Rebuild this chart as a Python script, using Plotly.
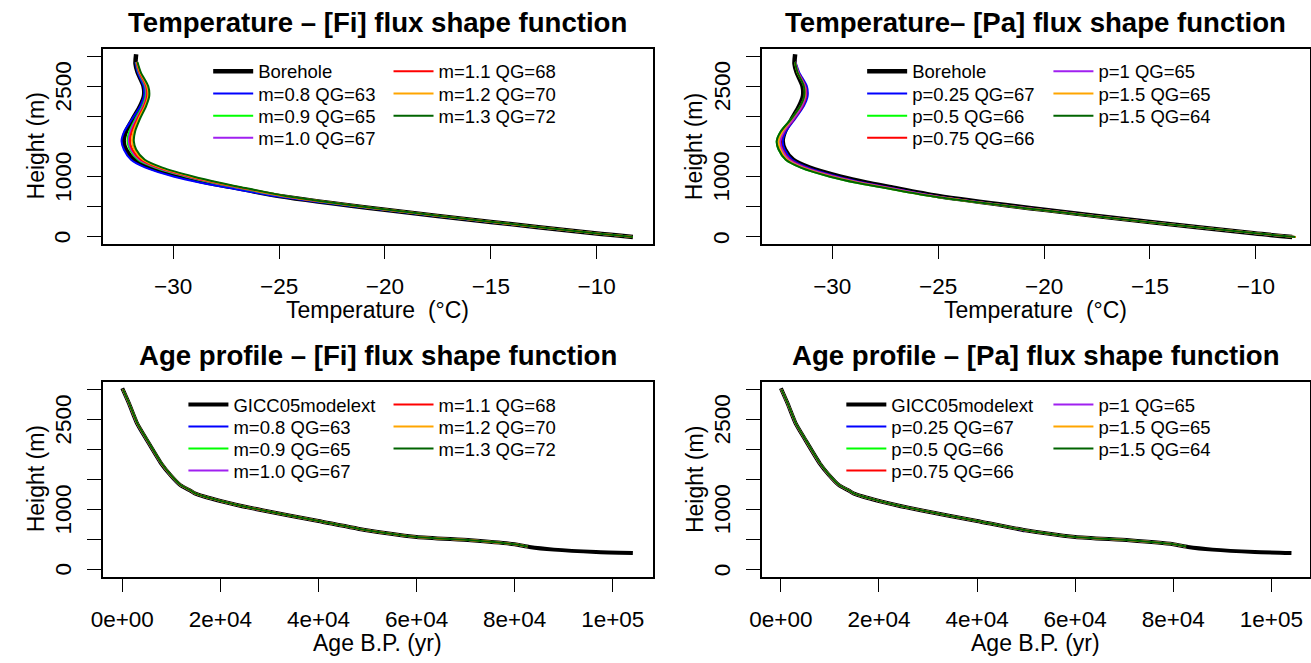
import plotly.graph_objects as go

W, H = 1311, 663
FONT = "Liberation Sans, Arial, Helvetica, sans-serif"

# ---------------- data: temperature profiles ----------------
bore_h = [0, 60, 250, 450, 680, 830, 900, 1000, 1150, 1280, 1450, 1590, 1750, 1950, 2170, 2340, 2500, 2730, 2870, 3030]
bore_t = [-8.29, -10.10, -15.00, -20.00, -25.00, -27.30, -28.35, -29.60, -31.06, -31.84, -32.23, -32.34, -32.23, -31.92, -31.56, -31.38, -31.40, -31.68, -31.78, -31.75]

model_h = [0, 60, 250, 450, 680, 830, 900, 1000, 1150, 1280, 1450, 1590, 1750, 1950, 2170, 2340, 2500, 2730, 2900]

fi_m08_t = [-8.29, -10.10, -15.05, -20.10, -25.20, -27.60, -28.70, -29.95, -31.31, -31.99, -32.33, -32.44, -32.31, -31.95, -31.56, -31.38, -31.40, -31.68, -31.78]
fi_m09_t = [-8.29, -10.08, -14.97, -19.95, -24.90, -27.15, -28.15, -29.38, -30.86, -31.66, -32.05, -32.16, -32.07, -31.80, -31.46, -31.30, -31.33, -31.63, -31.75]
fi_m10_t = [-8.29, -10.08, -14.96, -19.93, -24.85, -27.08, -28.07, -29.30, -30.78, -31.59, -31.99, -32.10, -32.01, -31.75, -31.42, -31.26, -31.30, -31.61, -31.74]
fi_m11_t = [-8.29, -10.07, -14.94, -19.90, -24.80, -27.00, -27.99, -29.22, -30.70, -31.52, -31.93, -32.04, -31.95, -31.70, -31.38, -31.23, -31.27, -31.59, -31.73]
fi_m12_t = [-8.29, -10.07, -14.92, -19.87, -24.75, -26.92, -27.90, -29.12, -30.60, -31.42, -31.83, -31.94, -31.87, -31.64, -31.33, -31.18, -31.23, -31.56, -31.71]
fi_m13_t = [-8.29, -10.06, -14.90, -19.83, -24.70, -26.85, -27.80, -29.02, -30.51, -31.34, -31.75, -31.86, -31.80, -31.58, -31.28, -31.13, -31.18, -31.53, -31.69]

pa_p025_t = [-8.19, -10.05, -15.05, -20.10, -25.15, -27.45, -28.50, -29.72, -31.14, -31.89, -32.25, -32.34, -32.18, -31.77, -31.34, -31.16, -31.20, -31.56, -31.73]
pa_p05_t = [-8.17, -10.02, -15.10, -20.20, -25.35, -27.75, -28.85, -30.10, -31.48, -32.19, -32.53, -32.62, -32.43, -31.95, -31.48, -31.28, -31.31, -31.63, -31.76]
pa_p075_t = [-8.14, -10.02, -15.07, -20.12, -25.20, -27.55, -28.62, -29.85, -31.26, -31.99, -32.35, -32.44, -32.26, -31.82, -31.40, -31.23, -31.27, -31.60, -31.75]
pa_p1_t = [-8.16, -10.03, -15.08, -20.14, -25.22, -27.58, -28.65, -29.90, -31.31, -32.04, -32.38, -32.46, -32.28, -31.84, -31.43, -31.26, -31.29, -31.61, -31.75]
pa_p15a_t = [-8.11, -10.00, -15.12, -20.18, -25.30, -27.68, -28.77, -30.02, -31.41, -32.12, -32.45, -32.54, -32.35, -31.92, -31.50, -31.30, -31.33, -31.64, -31.76]
pa_p15b_t = [-8.14, -10.00, -15.12, -20.20, -25.35, -27.75, -28.85, -30.10, -31.48, -32.19, -32.53, -32.62, -32.43, -31.95, -31.51, -31.32, -31.34, -31.64, -31.76]

# ---------------- data: age profiles ----------------
gicc_h = [3017, 2767, 2433, 2155, 1767, 1572, 1405, 1310, 1261, 1139, 983, 806, 650, 539, 483, 417, 372, 328, 289, 272]
gicc_age = [0, 1350, 3000, 5000, 7900, 9800, 11800, 13900, 14900, 20000, 28500, 40000, 49800, 60000, 71000, 80000, 83000, 88000, 96600, 104100]

agemod_h = [3000, 2767, 2433, 2155, 1767, 1572, 1405, 1310, 1261, 1139, 983, 806, 650, 539, 483, 417, 380]
fi_m08_age = [80, 1330, 2980, 4980, 7880, 9780, 11780, 13880, 14880, 19980, 28480, 39980, 49780, 59980, 70980, 79980, 82400]
fi_m09_age = [90, 1360, 3010, 5010, 7910, 9810, 11810, 13910, 14910, 20010, 28510, 40010, 49810, 60010, 71010, 80010, 82500]
fi_m10_age = [100, 1370, 3020, 5020, 7920, 9820, 11820, 13920, 14920, 20020, 28520, 40020, 49820, 60020, 71020, 80020, 82550]
fi_m11_age = [110, 1380, 3030, 5040, 7940, 9840, 11840, 13940, 14940, 20040, 28540, 40040, 49840, 60040, 71040, 80040, 82600]
fi_m12_age = [120, 1390, 3050, 5060, 7960, 9860, 11860, 13960, 14960, 20060, 28560, 40060, 49860, 60060, 71060, 80060, 82650]
fi_m13_age = [130, 1410, 3070, 5080, 7990, 9890, 11890, 13990, 14990, 20090, 28590, 40090, 49890, 60090, 71090, 80090, 82700]

pa_p025_age = [80, 1340, 2990, 4990, 7890, 9790, 11790, 13890, 14890, 19990, 28490, 39990, 49790, 59990, 70990, 79990, 82400]
pa_p05_age = [100, 1370, 3030, 5040, 7940, 9840, 11840, 13940, 14940, 20040, 28540, 40040, 49840, 60040, 71040, 80040, 82600]
pa_p075_age = [90, 1360, 3010, 5010, 7910, 9810, 11810, 13910, 14910, 20010, 28510, 40010, 49810, 60010, 71010, 80010, 82500]
pa_p1_age = [90, 1355, 3005, 5005, 7905, 9805, 11805, 13905, 14905, 20005, 28505, 40005, 49805, 60005, 71005, 80005, 82450]
pa_p15a_age = [95, 1365, 3020, 5025, 7925, 9825, 11825, 13925, 14925, 20025, 28525, 40025, 49825, 60025, 71025, 80025, 82550]
pa_p15b_age = [110, 1380, 3040, 5050, 7950, 9850, 11850, 13950, 14950, 20050, 28550, 40050, 49850, 60050, 71050, 80050, 82650]

fi_labels = ["m=0.8 QG=63", "m=0.9 QG=65", "m=1.0 QG=67", "m=1.1 QG=68", "m=1.2 QG=70", "m=1.3 QG=72"]
fi_colors = ["#0000FF", "#00FF00", "#A020F0", "#FF0000", "#FFA500", "#006400"]
pa_labels = ["p=0.25 QG=67", "p=0.5 QG=66", "p=0.75 QG=66", "p=1 QG=65", "p=1.5 QG=65", "p=1.5 QG=64"]
pa_colors = ["#0000FF", "#00FF00", "#FF0000", "#A020F0", "#FFA500", "#006400"]

temp_ticks = [-30, -25, -20, -15, -10]
temp_ticktext = ["\u221230", "\u221225", "\u221220", "\u221215", "\u221210"]
age_ticks = [0, 20000, 40000, 60000, 80000, 100000]
age_ticktext = ["0e+00", "2e+04", "4e+04", "6e+04", "8e+04", "1e+05"]
height_ticks = [0, 500, 1000, 1500, 2000, 2500, 3000]
height_labels = [0, 1000, 2500]

titles = ["Temperature \u2013 [Fi] flux shape function", "Temperature\u2013 [Pa] flux shape function",
          "Age profile \u2013 [Fi] flux shape function", "Age profile \u2013 [Pa] flux shape function"]


def fx(px):
    return px / W


def fy(py):
    return 1 - py / H


# panel boxes in pixels: (left, right, top, bottom)
boxes = [(91.7, 646.7, 49.3, 243.5), (756.5, 1309.5, 49.3, 243.5),
         (91.7, 646.7, 382.0, 576.5), (756.5, 1309.5, 382.0, 576.5)]
xranges = [[-33.322, -7.35], [-33.335, -7.47], [-3960, 108160], [-3939, 107780]]
yranges = [[-108, 3111], [-108, 3111], [-120, 3122], [-120, 3122]]

# legend positions: text start x of each column, centre y of each row
leg_cols = [(248, 430), (908, 1096), (223, 430), (887, 1096)]
leg_rows = [(71.7, 93.9, 116.1, 138.3), (71.7, 93.9, 116.1, 138.3),
            (404.9, 426.9, 448.9, 470.9), (404.9, 426.9, 448.9, 470.9)]

fig = go.Figure()
layout = {}
legend_count = [0]


def add_legend(panel, slot):
    legend_count[0] += 1
    n = legend_count[0]
    key = "legend" if n == 1 else "legend%d" % n
    c1, c2 = leg_cols[panel]
    rows = leg_rows[panel]
    if slot < 4:
        tx, ry = c1, rows[slot]
    else:
        tx, ry = c2, rows[slot - 4]
    layout[key] = dict(x=fx(tx - 50), y=fy(ry), xanchor="left", yanchor="middle",
                       bgcolor="rgba(0,0,0,0)", borderwidth=0, itemwidth=40,
                       font=dict(size=18.5, family=FONT, color="black"))
    return key


def add_line(panel, x, y, name, color, width, slot, shape="linear", smooth=0.8):
    ax = "" if panel == 0 else str(panel + 1)
    key = add_legend(panel, slot)
    fig.add_trace(go.Scatter(x=x, y=y, mode="lines", name=name,
                             line=dict(color=color, width=width, shape=shape,
                                       smoothing=smooth if shape == "spline" else None),
                             xaxis="x" + ax, yaxis="y" + ax, legend=key, showlegend=True,
                             hoverinfo="skip"))


# panel 1: temperature, Fi flux shape
fi_t = [fi_m08_t, fi_m09_t, fi_m10_t, fi_m11_t, fi_m12_t, fi_m13_t]
add_line(0, bore_t, bore_h, "Borehole", "black", 4.5, 0, "spline")
for i, t in enumerate(fi_t):
    add_line(0, t, model_h, fi_labels[i], fi_colors[i], 2, i + 1, "spline")

# panel 2: temperature, Pa flux shape
pa_t = [pa_p025_t, pa_p05_t, pa_p075_t, pa_p1_t, pa_p15a_t, pa_p15b_t]
add_line(1, bore_t, bore_h, "Borehole", "black", 4.5, 0, "spline")
for i, t in enumerate(pa_t):
    add_line(1, t, model_h, pa_labels[i], pa_colors[i], 2, i + 1, "spline")

# panel 3: age profile, Fi flux shape
fi_a = [fi_m08_age, fi_m09_age, fi_m10_age, fi_m11_age, fi_m12_age, fi_m13_age]
add_line(2, gicc_age, gicc_h, "GICC05modelext", "black", 4, 0, "spline", 0.5)
for i, a in enumerate(fi_a):
    add_line(2, a, agemod_h, fi_labels[i], fi_colors[i], 2, i + 1, "spline", 0.5)

# panel 4: age profile, Pa flux shape
pa_a = [pa_p025_age, pa_p05_age, pa_p075_age, pa_p1_age, pa_p15a_age, pa_p15b_age]
add_line(3, gicc_age, gicc_h, "GICC05modelext", "black", 4, 0, "spline", 0.5)
for i, a in enumerate(pa_a):
    add_line(3, a, agemod_h, pa_labels[i], pa_colors[i], 2, i + 1, "spline", 0.5)

annotations = []
for p in range(4):
    l, r, t, b = boxes[p]
    ax = "" if p == 0 else str(p + 1)
    is_temp = p < 2
    layout["xaxis" + ax] = dict(
        domain=[fx(l), fx(r)], range=xranges[p], anchor="y" + ax,
        tickvals=temp_ticks if is_temp else age_ticks,
        ticktext=temp_ticktext if is_temp else age_ticktext,
        showline=True, mirror=True, linecolor="black", linewidth=1.6,
        ticks="outside", ticklen=14, tickwidth=1.3, tickcolor="black",
        showgrid=False, zeroline=False, ticklabelstandoff=8,
        tickfont=dict(size=22.5, family=FONT, color="black"), fixedrange=True)
    layout["yaxis" + ax] = dict(
        domain=[fy(b), fy(t)], range=yranges[p], anchor="x" + ax,
        tickvals=height_ticks, showticklabels=False,
        showline=True, mirror=True, linecolor="black", linewidth=1.6,
        ticks="outside", ticklen=14, tickwidth=1.3, tickcolor="black",
        showgrid=False, zeroline=False, fixedrange=True)
    # height tick labels, rotated parallel to the axis (R style), placed on the axis scale
    for hv in height_labels:
        annotations.append(dict(text=str(hv), x=fx(l - 40), y=hv, xref="paper", yref="y" + ax,
                                showarrow=False, textangle=-90, xanchor="center", yanchor="middle",
                                font=dict(size=22.5, family=FONT, color="black")))
    cx = (l + r) / 2
    cy = (t + b) / 2
    annotations.append(dict(text="<b>" + titles[p] + "</b>", x=fx(cx), y=fy(t - 26.5),
                            xref="paper", yref="paper", showarrow=False,
                            xanchor="center", yanchor="middle",
                            font=dict(size=27.6, family=FONT, color="black")))
    annotations.append(dict(text="Temperature \u00a0(\u00b0C)" if is_temp else "Age B.P. (yr)",
                            x=fx(cx), y=fy(b + 66.5), xref="paper", yref="paper", showarrow=False,
                            xanchor="center", yanchor="middle",
                            font=dict(size=23, family=FONT, color="black")))
    annotations.append(dict(text="Height (m)", x=fx(l - 67.4), y=fy(cy), xref="paper", yref="paper",
                            showarrow=False, textangle=-90, xanchor="center", yanchor="middle",
                            font=dict(size=23, family=FONT, color="black")))

fig.update_layout(**layout)
fig.update_layout(width=W, height=H, margin=dict(l=0, r=0, t=0, b=0),
                  paper_bgcolor="white", plot_bgcolor="white",
                  annotations=annotations, font=dict(family=FONT, color="black"))

fig.write_html("out.html", config={"displayModeBar": False},
               post_script="document.body.style.margin='0px';document.body.style.overflow='hidden';")
